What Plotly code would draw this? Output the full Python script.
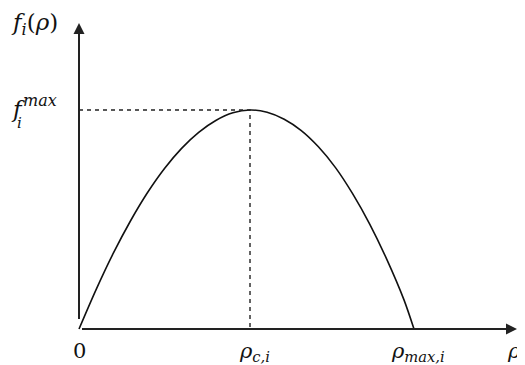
"""Fundamental diagram sketch: flow f_i(rho) against density rho_i."""

import plotly.graph_objects as go

# Density values (rho_c,i = 1) and flow values (f_i^max = 1)
rho_pts = [0.0, 0.1, 0.2, 0.3, 0.4, 0.5, 0.6, 0.7, 0.8, 0.9, 1.0,
           1.1, 1.2, 1.3, 1.4, 1.5, 1.6, 1.7, 1.8, 1.9, 1.959]
flow_pts = [0.0, 0.18, 0.345, 0.492, 0.622, 0.733, 0.825, 0.898, 0.952, 0.987, 1.0,
            0.99, 0.958, 0.906, 0.832, 0.737, 0.618, 0.479, 0.318, 0.134, 0.0]

rho_c = 1.0
rho_max = 1.959
f_max = 1.0

x_tick_vals = [0.0, rho_c, rho_max]
x_tick_text = ["0", "<i>ρ<sub>c,i</sub></i>", "<i>ρ<sub>max,i</sub></i>"]

W, H = 525, 365
OFF = 8  # page body margin pushes the figure 8px right and down
X0, Y0 = 79, 329  # origin in page pixels
SX, SY = 171, 219  # pixels per unit
FONT = "DejaVu Serif"
INK = "#111111"


def px(x):
    return (x - OFF) / W


def py(y):
    return 1 - (y - OFF) / H


def label(x, y, text, size, xanchor="left", yanchor="middle"):
    fig.add_annotation(
        x=px(x), y=py(y), xref="paper", yref="paper", text=text, showarrow=False,
        xanchor=xanchor, yanchor=yanchor, font=dict(family=FONT, size=size, color=INK),
    )


fig = go.Figure()

# Flow curve
fig.add_trace(
    go.Scatter(
        x=rho_pts,
        y=flow_pts,
        mode="lines",
        line=dict(color=INK, width=1.6, shape="spline", smoothing=0.8),
        hoverinfo="skip",
        showlegend=False,
    )
)

# Dashed guides to the maximum
fig.add_trace(
    go.Scatter(
        x=[0.0, rho_c, rho_c],
        y=[f_max, f_max, 0.0],
        mode="lines",
        line=dict(color="#222222", width=1.4, dash="4px,4px"),
        hoverinfo="skip",
        showlegend=False,
    )
)

# Axes drawn as arrows
fig.add_annotation(
    x=(517 - X0) / SX, y=0, ax=0, ay=0, xref="x", yref="y", axref="x", ayref="y",
    showarrow=True, arrowhead=2, arrowsize=1.1, arrowwidth=2, arrowcolor="#222222", text=" ",
)
fig.add_annotation(
    x=0, y=(Y0 - 23) / SY, ax=0, ay=0, xref="x", yref="y", axref="x", ayref="y",
    showarrow=True, arrowhead=2, arrowsize=1.1, arrowwidth=2, arrowcolor="#222222", text=" ",
)

# x tick labels and axis title
for val, txt in zip(x_tick_vals, x_tick_text):
    label(X0 + val * SX + (4 if val > 0 else 0), 337, txt, 21, xanchor="center", yanchor="top")
label(505, 337, "<i>ρ<sub>i</sub></i>", 21, yanchor="top")

# y axis title
label(9, 24, "<i>f<sub>i</sub></i>(<i>ρ</i>)", 23)

# f_i^max label, built from pieces so that sub and sup stack
label(9, 109, "<i>f</i>", 23)
label(21, 101, "<i>max</i>", 16)
label(15, 123, "<i>i</i>", 15)

fig.update_layout(
    width=W,
    height=H,
    margin=dict(l=0, r=0, t=0, b=0),
    paper_bgcolor="white",
    plot_bgcolor="white",
    xaxis=dict(range=[(OFF - X0) / SX, (OFF + W - X0) / SX], visible=False, fixedrange=True),
    yaxis=dict(range=[(Y0 - OFF - H) / SY, (Y0 - OFF) / SY], visible=False, fixedrange=True),
)

fig.write_html("out.html")
